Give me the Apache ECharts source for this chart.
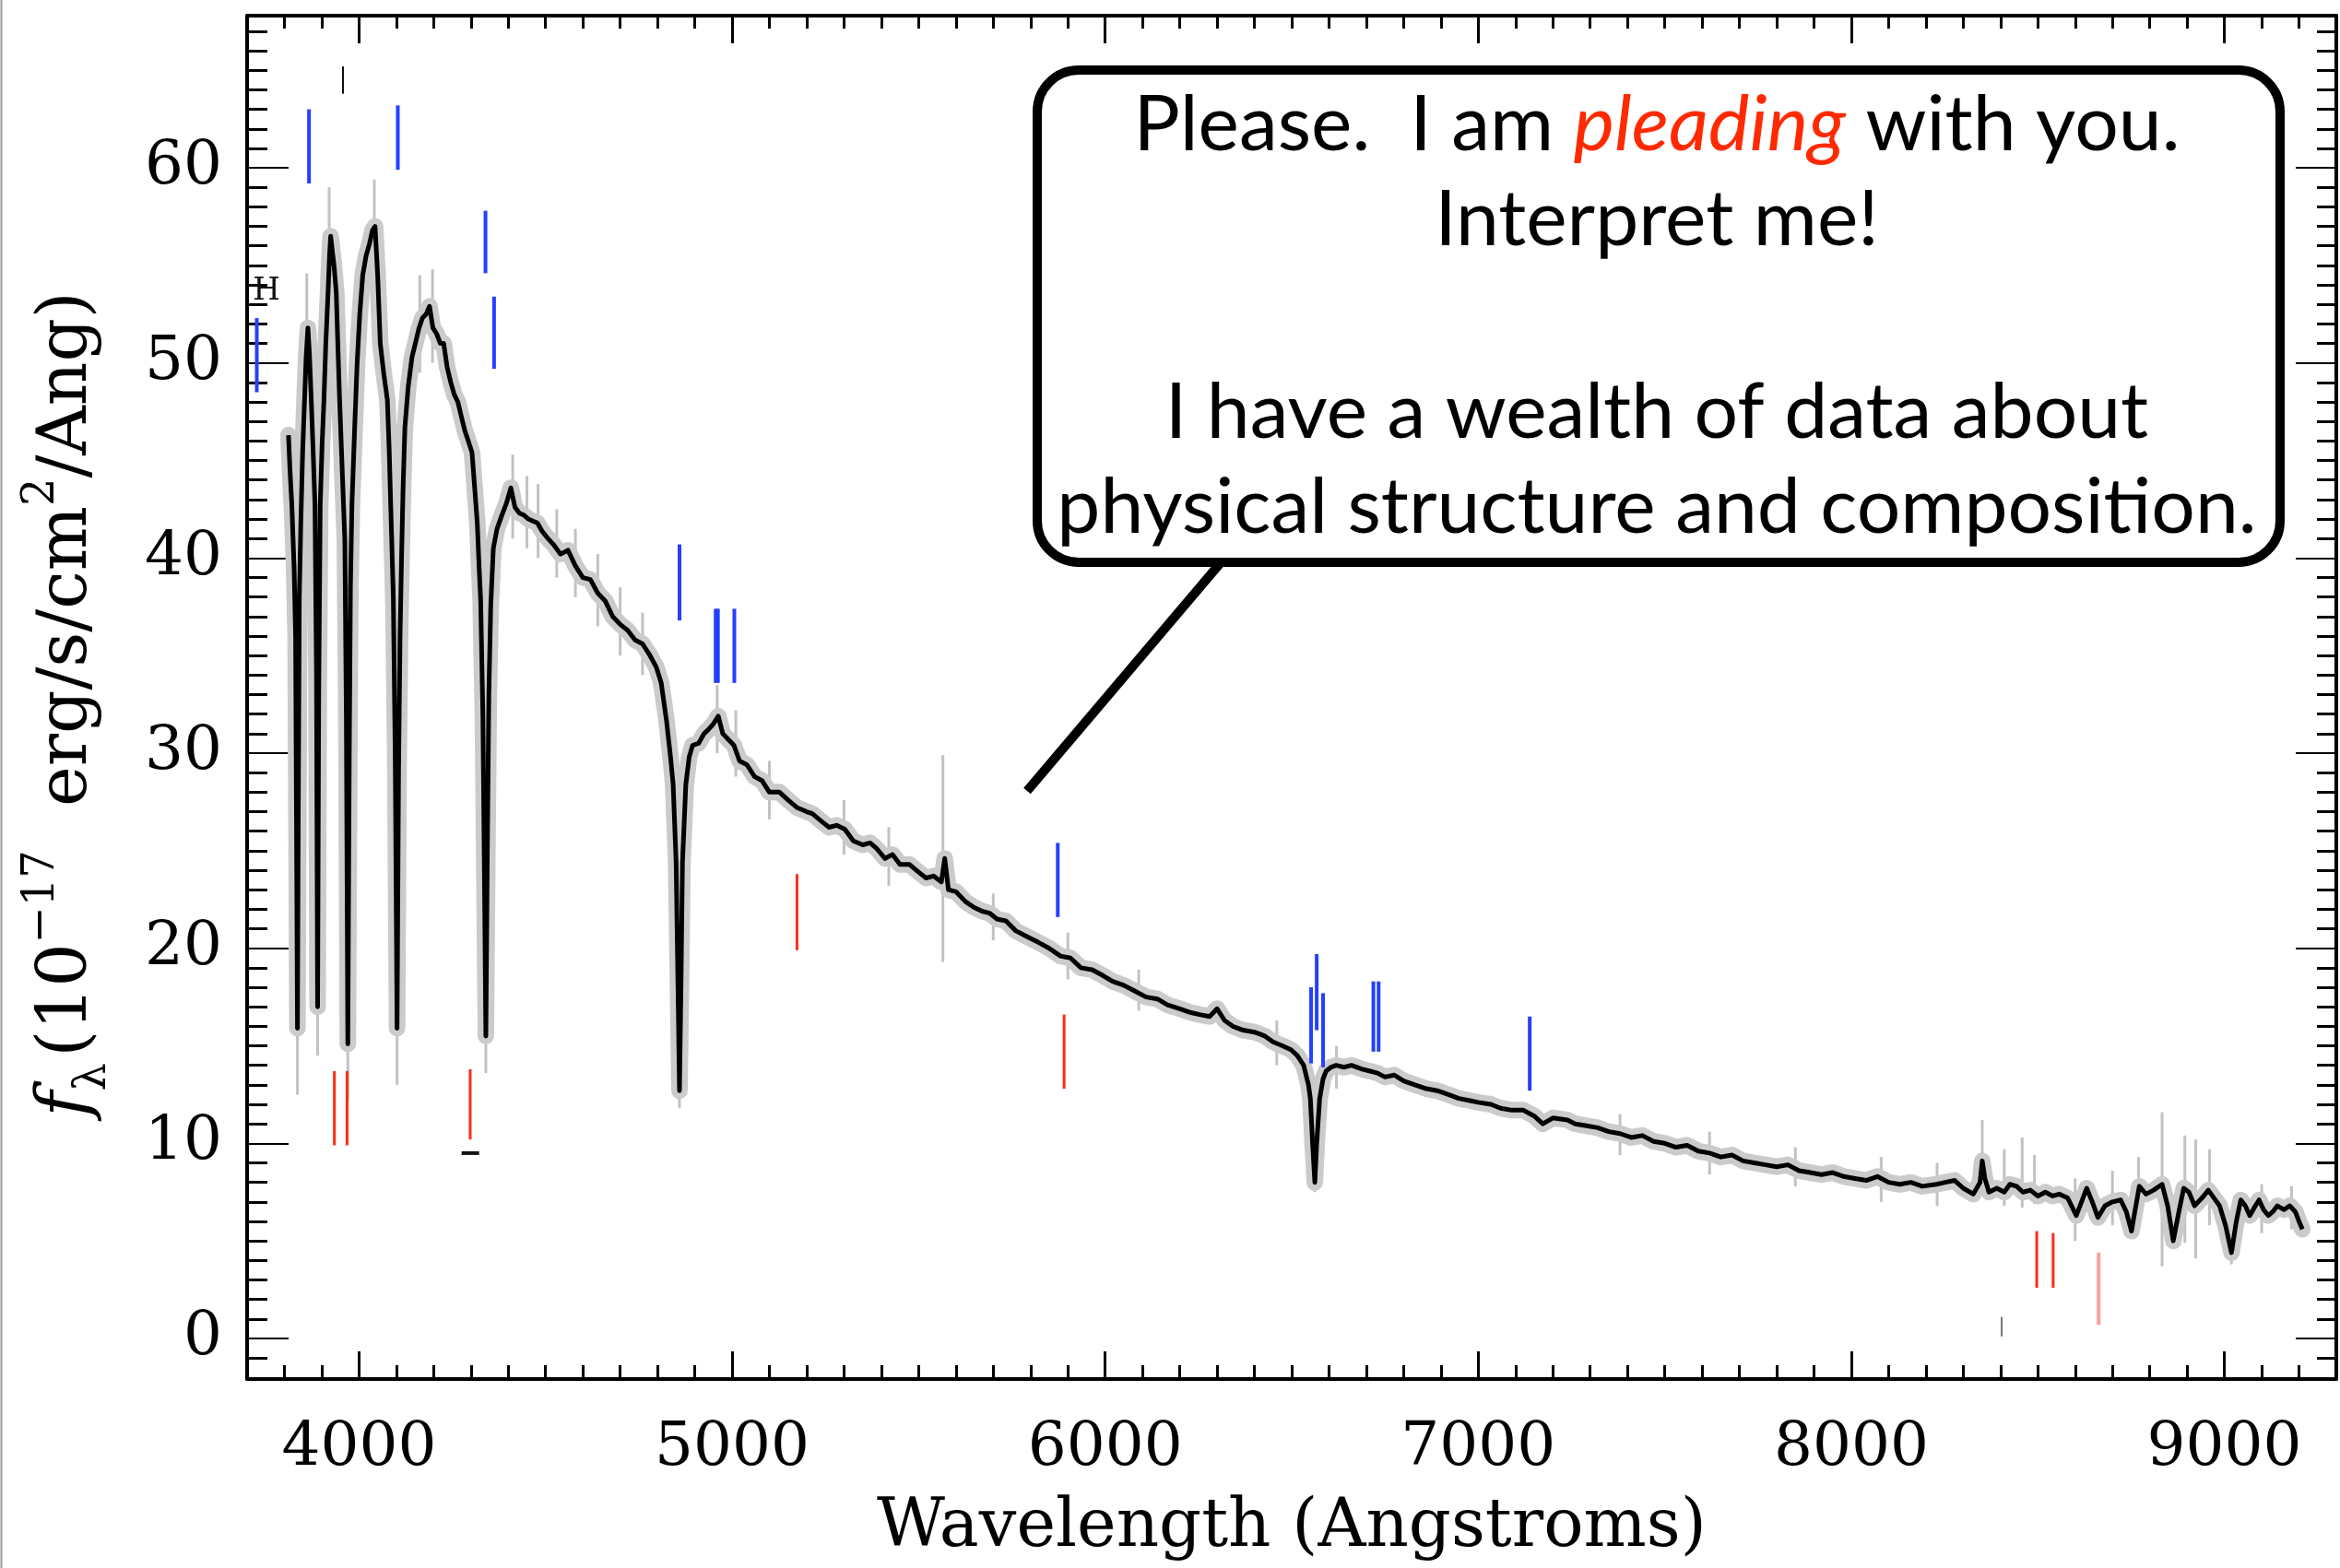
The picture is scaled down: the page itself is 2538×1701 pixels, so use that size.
<!DOCTYPE html>
<html>
<head>
<meta charset="utf-8">
<script src="https://cdn.jsdelivr.net/npm/echarts@6/dist/echarts.min.js"></script>
<style>
  html, body { margin: 0; padding: 0; background: #fff; }
  #chart { width: 2538px; height: 1701px; }
</style>
</head>
<body>
<div id="chart"></div>
<script>
// White dwarf spectrum: wavelength (Angstroms) vs flux (1e-17 erg/s/cm^2/Ang)

// Balmer series region
const spectrumBalmer = [
  [3811,46.3],[3815,44.5],[3820,42.7],[3826,39.5],[3830,36.0],[3833,24.0],[3835,15.9],[3837,26.0],
  [3840,38.0],[3844,41.8],[3849,45.5],[3854,48.1],[3858,50.2],[3863,51.8],[3867,50.5],[3872,48.1],
  [3877,45.5],[3882,42.7],[3886,34.0],[3889,17.0],[3892,33.0],[3896,42.7],[3901,45.8],[3906,48.1],
  [3911,51.0],[3917,53.6],[3921,55.5],[3924,56.5],[3928,55.8],[3933,55.0],[3939,53.6],[3944,50.5],
  [3948,48.1],[3955,44.5],[3962,40.9],[3966,32.0],[3970,15.1],[3974,30.0],[3977,38.5],[3981,42.7],
  [3988,46.5],[3995,50.0],[4002,52.5],[4010,54.5],[4019,55.5],[4028,56.1],[4036,56.8],[4043,57.0],
  [4050,54.5],[4057,51.0],[4066,49.5],[4076,48.1],[4081,45.5],[4085,42.7],[4092,38.0],[4097,30.0],
  [4102,15.9],[4106,29.0],[4110,36.0],[4114,40.0],[4118,43.5],[4123,46.7],[4132,48.8],[4142,50.3],
  [4151,51.0],[4161,51.8],[4170,52.3],[4180,52.5],[4189,52.9],[4198,51.8],[4208,51.5],[4218,51.0],
  [4227,51.0],[4236,49.8],[4246,49.0],[4255,48.4],[4265,48.0],[4275,47.2],[4284,46.5],[4293,46.0],
  [4303,45.4],[4310,43.6],[4317,41.8],[4322,39.5],[4326,37.9],[4332,32.0],[4336,24.0],[4340,15.5],
  [4344,25.0],[4348,33.0],[4353,37.5],[4360,40.5],[4370,41.5],[4383,42.2],[4395,42.8],[4407,43.6],
  [4418,42.6],[4430,42.3],[4442,42.2],[4454,42.0],[4466,41.9],[4478,41.8],[4490,41.4],[4502,41.1]
];

// H-beta to H-alpha
const spectrumGreen = [
  [4521,40.7],[4540,40.2],[4560,40.4],[4580,39.6],[4600,39.0],[4620,38.9],[4640,38.2],[4660,37.8],
  [4680,37.0],[4700,36.6],[4720,36.3],[4740,35.8],[4760,35.6],[4780,35.0],[4797,34.4],[4810,33.6],
  [4824,31.7],[4835,29.8],[4842,28.4],[4850,24.4],[4855,18.0],[4859,12.7],[4863,18.0],[4867,24.4],
  [4876,28.4],[4885,29.8],[4894,30.4],[4910,30.5],[4925,31.0],[4936,31.2],[4950,31.5],[4963,31.9],
  [4975,31.0],[4990,30.7],[5005,30.4],[5020,29.6],[5040,29.4],[5060,28.8],[5080,28.6],[5100,28.0],
  [5127,28.0],[5150,27.6],[5175,27.2],[5200,27.0],[5215,26.9],[5240,26.5],[5260,26.2],[5280,26.3],
  [5302,26.1],[5325,25.5],[5350,25.3],[5370,25.4],[5388,25.1],[5410,24.6],[5430,24.8],[5450,24.3],
  [5475,24.3],[5500,23.9],[5520,23.6],[5540,23.7],[5561,23.4],[5570,24.6],[5580,23.0],[5600,22.9],
  [5625,22.4],[5648,22.1],[5670,21.9],[5690,21.8],[5710,21.5],[5734,21.4],[5760,20.9],[5790,20.6],
  [5821,20.3],[5850,20.0],[5880,19.6],[5907,19.5],[5935,19.0],[5965,18.9],[5994,18.6],[6020,18.3],
  [6050,18.1],[6080,17.8],[6110,17.5],[6140,17.4],[6167,17.1],[6200,16.9],[6230,16.7],[6253,16.6],
  [6280,16.5],[6300,16.9],[6320,16.3],[6342,16.0],[6370,15.8],[6400,15.7],[6428,15.5],[6450,15.2],
  [6475,15.0],[6498,14.8],[6515,14.5],[6532,14.0]
];

// H-alpha to the red end
const spectrumRed = [
  [6545,13.0],[6550,12.3],[6556,10.0],[6562,8.0],[6567,10.0],[6575,12.3],[6584,13.3],[6592,13.7],
  [6605,13.9],[6619,14.0],[6640,13.9],[6660,14.0],[6689,13.8],[6710,13.7],[6730,13.6],[6750,13.4],
  [6775,13.5],[6800,13.2],[6830,13.0],[6861,12.8],[6890,12.7],[6920,12.5],[6948,12.3],[6975,12.2],
  [7000,12.1],[7034,12.0],[7060,11.8],[7090,11.7],[7121,11.7],[7150,11.4],[7173,11.0],[7200,11.3],
  [7239,11.2],[7260,11.0],[7290,10.9],[7320,10.8],[7350,10.6],[7380,10.5],[7410,10.3],[7440,10.4],
  [7470,10.1],[7500,10.0],[7530,9.8],[7560,9.9],[7590,9.6],[7620,9.5],[7650,9.3],[7680,9.4],
  [7710,9.1],[7740,9.0],[7770,8.9],[7800,8.8],[7830,8.9],[7860,8.6],[7890,8.5],[7920,8.4],
  [7950,8.5],[7980,8.3],[8010,8.2],[8040,8.1],[8070,8.3],[8100,8.0],[8130,7.9],[8160,8.0],
  [8190,7.8],[8228,7.9],[8252,8.0],[8277,8.1],[8300,7.7],[8327,7.4],[8345,8.0],[8351,9.1],
  [8358,8.2],[8369,7.5],[8390,7.7],[8410,7.5],[8425,7.9],[8443,7.8],[8460,7.5],[8480,7.6],
  [8500,7.3],[8520,7.5],[8540,7.3],[8557,7.4],[8580,7.2],[8603,6.3],[8617,7.0],[8631,7.7],
  [8646,7.0],[8661,6.2],[8680,6.8],[8700,7.0],[8722,7.1],[8737,6.5],[8751,5.5],[8760,6.5],
  [8772,7.8],[8790,7.4],[8810,7.6],[8833,7.9],[8848,6.8],[8863,5.0],[8878,6.5],[8891,7.7],
  [8905,7.5],[8920,6.8],[8940,7.2],[8957,7.6],[8972,7.2],[8987,6.8],[9003,5.8],[9019,4.4],
  [9032,6.0],[9044,7.1],[9056,6.8],[9068,6.3],[9080,6.7],[9093,7.1],[9105,6.6],[9118,6.3],
  [9130,6.5],[9142,6.8],[9160,6.6],[9175,6.8],[9190,6.5],[9200,6.0],[9209,5.6]
];

// Individual error excursions: [wavelength, low, high]
const errorSpikes = [
  [3835,12.5,16.5],[3860,49.0,54.6],[3889,14.5,17.5],[3920,53.0,59.0],[3970,12.2,15.5],
  [4041,54.0,59.4],[4102,13.0,16.5],[4163,49.5,54.5],[4197,50.0,54.8],[4340,13.6,16.0],
  [4412,41.0,45.3],[4450,40.5,44.2],[4480,40.0,43.8],[4530,39.0,42.5],[4580,38.0,41.5],
  [4640,36.5,40.2],[4700,35.0,38.5],[4760,34.0,37.2],[4859,11.8,13.0],[4960,30.0,33.5],
  [5010,28.8,32.2],[5100,26.6,29.6],[5300,24.8,27.6],[5420,23.2,26.2],[5565,19.3,29.9],
  [5700,20.4,22.8],[5900,18.4,20.8],[6090,16.8,18.9],[6460,14.0,16.3],[6562,7.5,8.5],
  [6620,12.8,15.0],[7380,9.4,11.5],[7620,8.4,10.6],[7850,7.8,9.8],[8080,7.0,9.3],
  [8230,6.8,9.0],[8351,7.6,11.2],[8410,6.8,9.7],[8458,6.7,10.3],[8491,6.9,9.4],
  [8600,5.0,8.2],[8700,5.8,8.6],[8770,6.3,9.3],[8833,3.7,11.6],[8894,4.9,10.4],
  [8923,4.1,10.2],[8960,5.8,9.7],[9019,3.8,6.5],[9100,5.4,7.9],[9180,5.6,7.8]
];

// Line identification ticks: [wavelength, low, high]
const blueLines = [
  [3726,48.5,52.3],[3866,59.2,63.0],[4104,59.9,63.2],[4339,54.6,57.8],[4362,49.7,53.4],
  [4859,36.8,40.7],[4956,33.6,37.4],[4962,33.6,37.4],[5006,33.6,37.4],[5873,21.6,25.4],
  [6552,14.1,18.0],[6567,15.8,19.7],[6584,13.9,17.7],[6719,14.7,18.3],[6733,14.7,18.3],
  [7138,12.7,16.5]
];
const redLines = [
  [3934,9.9,13.7],[3968,9.9,13.7],[4298,10.2,13.8],[5174,19.9,23.8],[5890,12.8,16.6],
  [8497,2.6,5.5],[8541,2.6,5.4]
];
const pinkLines = [[8663,0.7,4.4]];
const blackMarks = [[3957,63.8,65.2]];
const greyMarks = [[8403,0.1,1.1]];
const blackDashes = [[4275,4322,9.5]];

// Axis tick values
const xMajorTicks = [4000, 5000, 6000, 7000, 8000, 9000];
const yMajorTicks = [0, 10, 20, 30, 40, 50, 60];
const xMinorTicks = [];
for (let w = 3800; w <= 9200; w += 100) if (w % 1000 !== 0) xMinorTicks.push(w);
const yMinorTicks = [];
for (let v = -1; v <= 67; v++) if (v % 10 !== 0) yMinorTicks.push(v);

const spectrum = spectrumBalmer.concat(spectrumGreen, spectrumRed);

const X_MIN = 3700, X_MAX = 9300, Y_MIN = -2.08, Y_MAX = 67.8;
const SERIF = '"DejaVu Serif", "Liberation Serif", serif';

function verticalSegments(color, width) {
  return function (params, api) {
    const a = api.coord([api.value(0), api.value(1)]);
    const b = api.coord([api.value(0), api.value(2)]);
    return {
      type: 'line',
      shape: { x1: a[0], y1: a[1], x2: b[0], y2: b[1] },
      style: { stroke: color, lineWidth: width }
    };
  };
}
function horizontalSegments(color, width) {
  return function (params, api) {
    const a = api.coord([api.value(0), api.value(2)]);
    const b = api.coord([api.value(1), api.value(2)]);
    return {
      type: 'line',
      shape: { x1: a[0], y1: a[1], x2: b[0], y2: b[1] },
      style: { stroke: color, lineWidth: width }
    };
  };
}

const plainNumber = v => String(v);

function xAxisDef(position, ticks, tickLen, withLine, withLabels) {
  return {
    type: 'value', position: position, min: X_MIN, max: X_MAX,
    axisLine: { show: withLine, onZero: false, lineStyle: { color: '#000', width: 4 } },
    axisTick: { show: true, inside: true, length: tickLen, customValues: ticks,
                lineStyle: { color: '#000', width: 3 } },
    axisLabel: withLabels ? { show: true, customValues: ticks, margin: 43, color: '#000',
                fontFamily: SERIF, fontSize: 66, formatter: plainNumber } : { show: false },
    splitLine: { show: false }
  };
}
function yAxisDef(position, ticks, tickLen, tickWidth, withLine, withLabels) {
  return {
    type: 'value', position: position, min: Y_MIN, max: Y_MAX,
    axisLine: { show: withLine, onZero: false, lineStyle: { color: '#000', width: 4 } },
    axisTick: { show: true, inside: true, length: tickLen, customValues: ticks,
                lineStyle: { color: '#000', width: tickWidth } },
    axisLabel: withLabels ? { show: true, customValues: ticks, margin: 27, color: '#000',
                fontFamily: SERIF, fontSize: 66, formatter: plainNumber } : { show: false },
    splitLine: { show: false }
  };
}

const chart = echarts.init(document.getElementById('chart'), null, { renderer: 'canvas' });

chart.setOption({
  animation: false,
  backgroundColor: '#fff',
  grid: { left: 268, right: 4, top: 17, bottom: 205, containLabel: false },
  xAxis: [
    xAxisDef('bottom', xMajorTicks, 30, true, true),
    xAxisDef('bottom', xMinorTicks, 15, false, false),
    xAxisDef('top', xMajorTicks, 30, true, false),
    xAxisDef('top', xMinorTicks, 14, false, false)
  ],
  yAxis: [
    yAxisDef('left', yMajorTicks, 45, 2, true, true),
    yAxisDef('left', yMinorTicks, 22, 3, false, false),
    yAxisDef('right', yMajorTicks, 44, 2, true, false),
    yAxisDef('right', yMinorTicks, 21, 3, false, false)
  ],
  series: [
    { type: 'custom', name: 'error spikes', data: errorSpikes, z: 1,
      renderItem: verticalSegments('#c2c2c2', 3) },
    { type: 'line', name: 'error band', data: spectrum, symbol: 'none', z: 2,
      lineStyle: { color: '#cbcbcb', width: 18, join: 'round', cap: 'round' } },
    { type: 'line', name: 'flux', data: spectrum, symbol: 'none', z: 3,
      lineStyle: { color: '#000', width: 5, join: 'round' } },
    { type: 'custom', name: 'absorption ids', data: blueLines, z: 4,
      renderItem: verticalSegments('#2440ff', 4) },
    { type: 'custom', name: 'calcium ids', data: redLines, z: 4,
      renderItem: verticalSegments('#ff2a1a', 3) },
    { type: 'custom', name: 'calcium ids (weak)', data: pinkLines, z: 4,
      renderItem: verticalSegments('#ff9c9c', 4) },
    { type: 'custom', name: 'marks', data: blackMarks, z: 4,
      renderItem: verticalSegments('#111', 2) },
    { type: 'custom', name: 'faint marks', data: greyMarks, z: 4,
      renderItem: verticalSegments('#777', 2) },
    { type: 'custom', name: 'dashes', data: blackDashes, z: 4,
      renderItem: horizontalSegments('#111', 4) }
  ],
  graphic: [
    { type: 'line', shape: { x1: 1.5, y1: 0, x2: 1.5, y2: 1701 },
      style: { stroke: '#9a9a9a', lineWidth: 2 }, z: 50 },
    { type: 'text', x: 289, y: 316, z: 50,
      style: { text: 'H', fontFamily: SERIF, fontSize: 34, fill: '#111',
               align: 'center', verticalAlign: 'middle' } },
    { type: 'text', x: 74, y: 764, rotation: Math.PI / 2, z: 50,
      style: {
        text: '{f|f}{l|λ}  {n|(10}{s|−17}{n|  erg/s/cm}{s|2}{n|/Ang)}',
        align: 'center', verticalAlign: 'middle', fill: '#000',
        rich: {
          n: { fontFamily: SERIF, fontSize: 74, lineHeight: 104, verticalAlign: 'middle', fill: '#000' },
          f: { fontFamily: SERIF, fontStyle: 'italic', fontSize: 76, lineHeight: 104, verticalAlign: 'middle', fill: '#000' },
          l: { fontFamily: SERIF, fontSize: 48, lineHeight: 54, verticalAlign: 'bottom', fill: '#000' },
          s: { fontFamily: SERIF, fontSize: 48, lineHeight: 56, verticalAlign: 'top', fill: '#000' }
        }
      } },
    { type: 'text', x: 1401, y: 1658, z: 50,
      style: { text: 'Wavelength (Angstroms)', fontFamily: SERIF, fontSize: 72, fill: '#000',
               align: 'center', verticalAlign: 'middle' } },
    // speech bubble
    { type: 'line', shape: { x1: 1326, y1: 608, x2: 1114, y2: 858 }, z: 60,
      style: { stroke: '#000', lineWidth: 10 } },
    { type: 'rect', shape: { x: 1125, y: 76, width: 1348, height: 534, r: 45 }, z: 61,
      style: { fill: '#fff', stroke: '#000', lineWidth: 10 } },
    { type: 'text', x: 1797, y: 136, z: 62,
      style: { text: 'Please.  I am {p|pleading} with you.', fontFamily: 'Lato', fontSize: 84,
               fill: '#000', align: 'center', verticalAlign: 'middle',
               rich: { p: { fontFamily: 'Lato', fontStyle: 'italic', fontSize: 84, fill: '#ff2a00' } } } },
    { type: 'text', x: 1797, y: 239, z: 62,
      style: { text: 'Interpret me!', fontFamily: 'Lato', fontSize: 84, fill: '#000',
               align: 'center', verticalAlign: 'middle' } },
    { type: 'text', x: 1797, y: 448, z: 62,
      style: { text: 'I have a wealth of data about', fontFamily: 'Lato', fontSize: 84, fill: '#000',
               align: 'center', verticalAlign: 'middle' } },
    { type: 'text', x: 1797, y: 551, z: 62,
      style: { text: 'physical structure and composition.', fontFamily: 'Lato', fontSize: 84, fill: '#000',
               align: 'center', verticalAlign: 'middle' } }
  ]
});
</script>
</body>
</html>
